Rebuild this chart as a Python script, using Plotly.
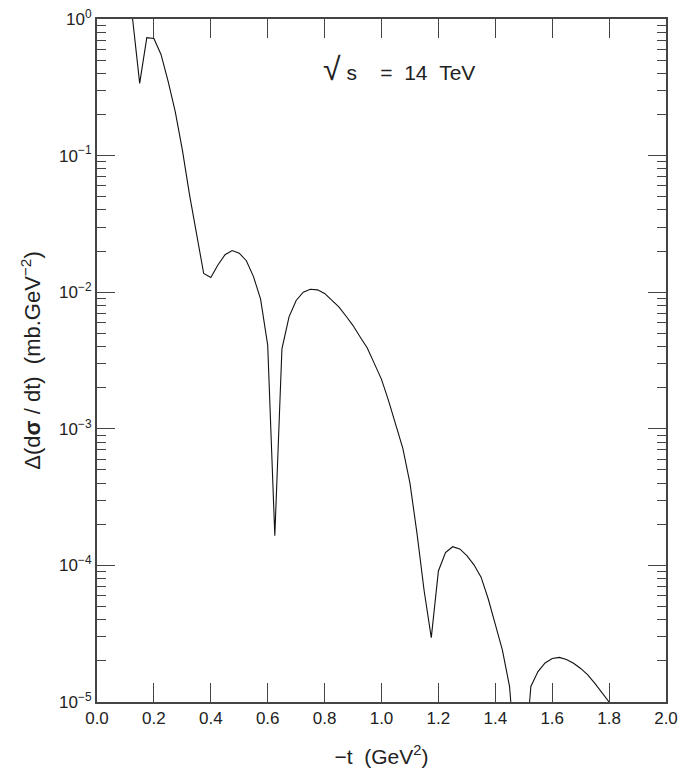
import plotly.graph_objects as go

# -t (GeV^2) on a 0.025 grid, and Delta(dsigma/dt) (mb GeV^-2)
t_vals = [0.100, 0.125, 0.150, 0.175, 0.200, 0.225, 0.250, 0.275, 0.300, 0.325,
          0.350, 0.375, 0.400, 0.425, 0.450, 0.475, 0.500, 0.525, 0.550, 0.575,
          0.600, 0.625, 0.650, 0.675, 0.700, 0.725, 0.750, 0.775, 0.800, 0.825,
          0.850, 0.875, 0.900, 0.925, 0.950, 0.975, 1.000, 1.025, 1.050, 1.075,
          1.100, 1.125, 1.150, 1.175, 1.200, 1.225, 1.250, 1.275, 1.300, 1.325,
          1.350, 1.375, 1.400, 1.425, 1.450, 1.475, 1.500, 1.525, 1.550, 1.575,
          1.600, 1.625, 1.650, 1.675, 1.700, 1.725, 1.750, 1.775, 1.800]
dsig_vals = [3.0, 0.98, 0.338, 0.73, 0.72, 0.55, 0.35, 0.21, 0.11, 0.052,
             0.026, 0.0137, 0.0128, 0.0158, 0.0188, 0.0202, 0.0193, 0.0170, 0.0130, 0.0089,
             0.0041, 0.000165, 0.00385, 0.0066, 0.0087, 0.0100, 0.0105, 0.0104, 0.0098, 0.0087,
             0.0078, 0.0067, 0.0057, 0.0047, 0.0039, 0.0030, 0.0023, 0.0016, 0.00108, 0.00072,
             0.00040, 0.00017, 0.000065, 0.0000296, 0.000091, 0.000124, 0.000137, 0.000132, 0.000118, 0.000101,
             0.000082, 0.000057, 0.000037, 0.000024, 0.000013, 0.000003, 0.000003, 0.0000130, 0.0000167, 0.0000193,
             0.0000208, 0.0000212, 0.0000205, 0.0000192, 0.0000176, 0.0000158, 0.0000137, 0.0000118, 0.0000100]

x_tickvals = [0.0, 0.2, 0.4, 0.6, 0.8, 1.0, 1.2, 1.4, 1.6, 1.8, 2.0]
x_ticktext = ["0.0", "0.2", "0.4", "0.6", "0.8", "1.0", "1.2", "1.4", "1.6", "1.8", "2.0"]
y_tickvals = [1e-5, 1e-4, 1e-3, 1e-2, 1e-1, 1e0]
y_ticktext = ["10<sup>−5</sup>", "10<sup>−4</sup>", "10<sup>−3</sup>",
              "10<sup>−2</sup>", "10<sup>−1</sup>", "10<sup>0</sup>"]
y_minor = [m * 10.0 ** e for e in range(-5, 0) for m in range(2, 10)]

axis_col = "#444444"
txt_col = "#222222"
font_fam = "Liberation Sans, Arial, sans-serif"
nb = "\u00a0"

fig = go.Figure()
fig.add_trace(go.Scatter(x=t_vals, y=dsig_vals, mode="lines",
                         line=dict(color="#111111", width=1.1),
                         showlegend=False, hoverinfo="skip"))

fig.update_layout(
    width=693, height=774,
    margin=dict(l=97, r=27, t=19, b=72),
    paper_bgcolor="white", plot_bgcolor="white",
    font=dict(family=font_fam, color=txt_col, size=17),
    xaxis=dict(range=[0, 2.0], tickmode="array", tickvals=x_tickvals, ticktext=x_ticktext,
               ticks="inside", ticklen=19, tickwidth=1.2, tickcolor=axis_col,
               showline=True, linecolor=axis_col, linewidth=2, mirror="ticks",
               showgrid=False, zeroline=False, automargin=False,
               tickfont=dict(size=17, color=txt_col),
               title=dict(text="−t" + nb * 2 + "(GeV<sup>2</sup>)", font=dict(size=21, color=txt_col), standoff=22)),
    yaxis=dict(type="log", range=[-5, 0], tickmode="array", tickvals=y_tickvals, ticktext=y_ticktext,
               ticks="inside", ticklen=18, tickwidth=1.2, tickcolor=axis_col,
               minor=dict(tickmode="array", tickvals=y_minor, ticks="inside", ticklen=9,
                          tickwidth=1.2, tickcolor=axis_col, showgrid=False),
               showline=True, linecolor=axis_col, linewidth=2, mirror="ticks",
               showgrid=False, zeroline=False, automargin=False,
               tickfont=dict(size=17, color=txt_col),
               title=dict(text="Δ(d<b>σ</b>" + nb + "/" + nb + "dt)" + nb * 2 + "(mb.GeV<sup>−2</sup>)",
                          font=dict(size=22, color=txt_col), standoff=12)),
)

fig.add_annotation(x=0.53, y=0.927, xref="paper", yref="paper",
                   text="<span style='font-size:32px'>√</span>" + nb + "s" + nb * 4 + "=" + nb * 2 + "14" + nb * 2 + "TeV",
                   showarrow=False, font=dict(size=21, color=txt_col, family=font_fam),
                   xanchor="center", yanchor="middle")

fig.write_html("out.html")
